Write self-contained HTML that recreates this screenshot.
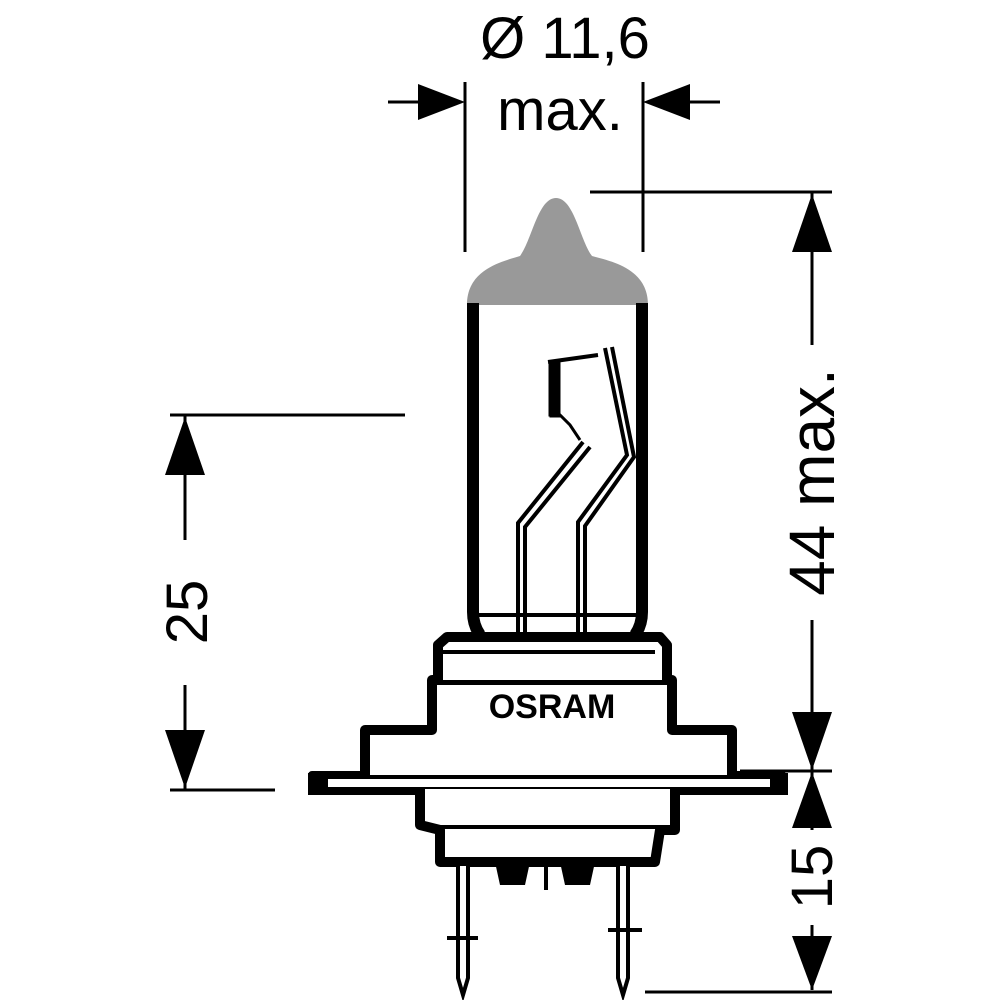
<!DOCTYPE html>
<html><head><style>body{margin:0;background:#fff}svg{display:block}</style></head><body>
<svg width="1000" height="1000" viewBox="0 0 1000 1000" xmlns="http://www.w3.org/2000/svg" font-family="Liberation Sans, sans-serif">
<rect width="1000" height="1000" fill="#fff"/>
<text x="565" y="58" font-size="58" text-anchor="middle">Ø 11,6</text>
<text x="560" y="130" font-size="58" text-anchor="middle">max.</text>
<g stroke="#000" stroke-width="3">
<line x1="465" y1="82" x2="465" y2="252"/>
<line x1="643" y1="82" x2="643" y2="252"/>
<line x1="388" y1="102" x2="420" y2="102"/>
<line x1="690" y1="102" x2="720" y2="102"/>
<line x1="590" y1="192" x2="832" y2="192"/>
<line x1="812" y1="192" x2="812" y2="345"/>
<line x1="812" y1="620" x2="812" y2="771"/>
<line x1="740" y1="771" x2="832" y2="771"/>
<line x1="812" y1="771" x2="812" y2="830"/>
<line x1="812" y1="925" x2="812" y2="990"/>
<line x1="645" y1="992" x2="832" y2="992"/>
<line x1="170" y1="415" x2="405" y2="415"/>
<line x1="170" y1="790" x2="275" y2="790"/>
<line x1="185" y1="415" x2="185" y2="540"/>
<line x1="185" y1="685" x2="185" y2="790"/>
</g>
<g fill="#000">
<polygon points="465,102 418,84 418,120"/>
<polygon points="643,102 690,84 690,120"/>
<polygon points="812,194 792,252 832,252"/>
<polygon points="812,770 792,712 832,712"/>
<polygon points="812,772 792,828 832,828"/>
<polygon points="812,990 792,936 832,936"/>
<polygon points="185,417 165,475 205,475"/>
<polygon points="185,788 165,730 205,730"/>
</g>
<text transform="translate(834,482) rotate(-90)" font-size="64" text-anchor="middle">44 max.</text>
<text transform="translate(832,877) rotate(-90)" font-size="58" text-anchor="middle">15</text>
<text transform="translate(207,612) rotate(-90)" font-size="58" text-anchor="middle">25</text>
<path d="M467,305 C467,270 500,262 520,256 C532,240 538,198 556,198 C574,198 580,240 592,256 C615,262 648,270 648,305 Z" fill="#999"/>
<path d="M473,303 L473,612 Q473,625 480,635" stroke="#000" stroke-width="12" fill="none"/>
<path d="M642,303 L642,612 Q642,625 635,635" stroke="#000" stroke-width="12" fill="none"/>
<g stroke="#000" fill="none">
<line x1="478" y1="615" x2="637" y2="615" stroke-width="4"/>
<path d="M550,362 L550,415 L560,415 L570,425 L580,440" stroke-width="3"/>
<rect x="550" y="362" width="10" height="55" fill="#000"/>
<path d="M548,362 L598,355" stroke-width="4"/>
<path d="M518,635 L518,523 L583,442 M525,635 L525,527 L590,447" stroke-width="4"/>
<path d="M578,635 L578,522 L627,455 L605,348 M585,635 L585,526 L634,457 L612,347" stroke-width="4"/>
</g>
<g stroke="#000" stroke-width="10" fill="#fff" stroke-linejoin="round">
<rect x="312" y="775" width="470" height="16" fill="#fff" stroke-width="8"/>
<path d="M365,775 L365,730 L432,730 L432,680 L672,680 L672,730 L732,730 L732,775"/>
<path d="M438,680 L438,645 L447,637 L660,637 L667,645 L667,680"/>
<path d="M420,789 L420,825 L440,830 L440,862 L655,862 L660,830 L675,830 L675,789"/>
</g>
<rect x="308" y="773" width="20" height="22" fill="#000"/>
<rect x="770" y="773" width="18" height="22" fill="#000"/>
<line x1="440" y1="652" x2="655" y2="652" stroke="#000" stroke-width="4"/>
<line x1="432" y1="827" x2="668" y2="827" stroke="#000" stroke-width="4"/>
<text x="552" y="718" font-size="34" font-weight="bold" text-anchor="middle">OSRAM</text>
<path d="M495,862 L500,885 L525,885 L530,862 Z M560,862 L565,885 L590,885 L595,862 Z" fill="#000"/>
<line x1="546" y1="862" x2="546" y2="890" stroke="#000" stroke-width="4"/>
<g stroke="#000" stroke-width="4" fill="#fff">
<path d="M458,866 L458,978 L463,995 L468,978 L468,866"/>
<path d="M618,866 L618,978 L623,995 L628,978 L628,866"/>
<line x1="447" y1="938" x2="478" y2="938"/>
<line x1="608" y1="930" x2="642" y2="930"/>
</g>
</svg>
</body></html>
